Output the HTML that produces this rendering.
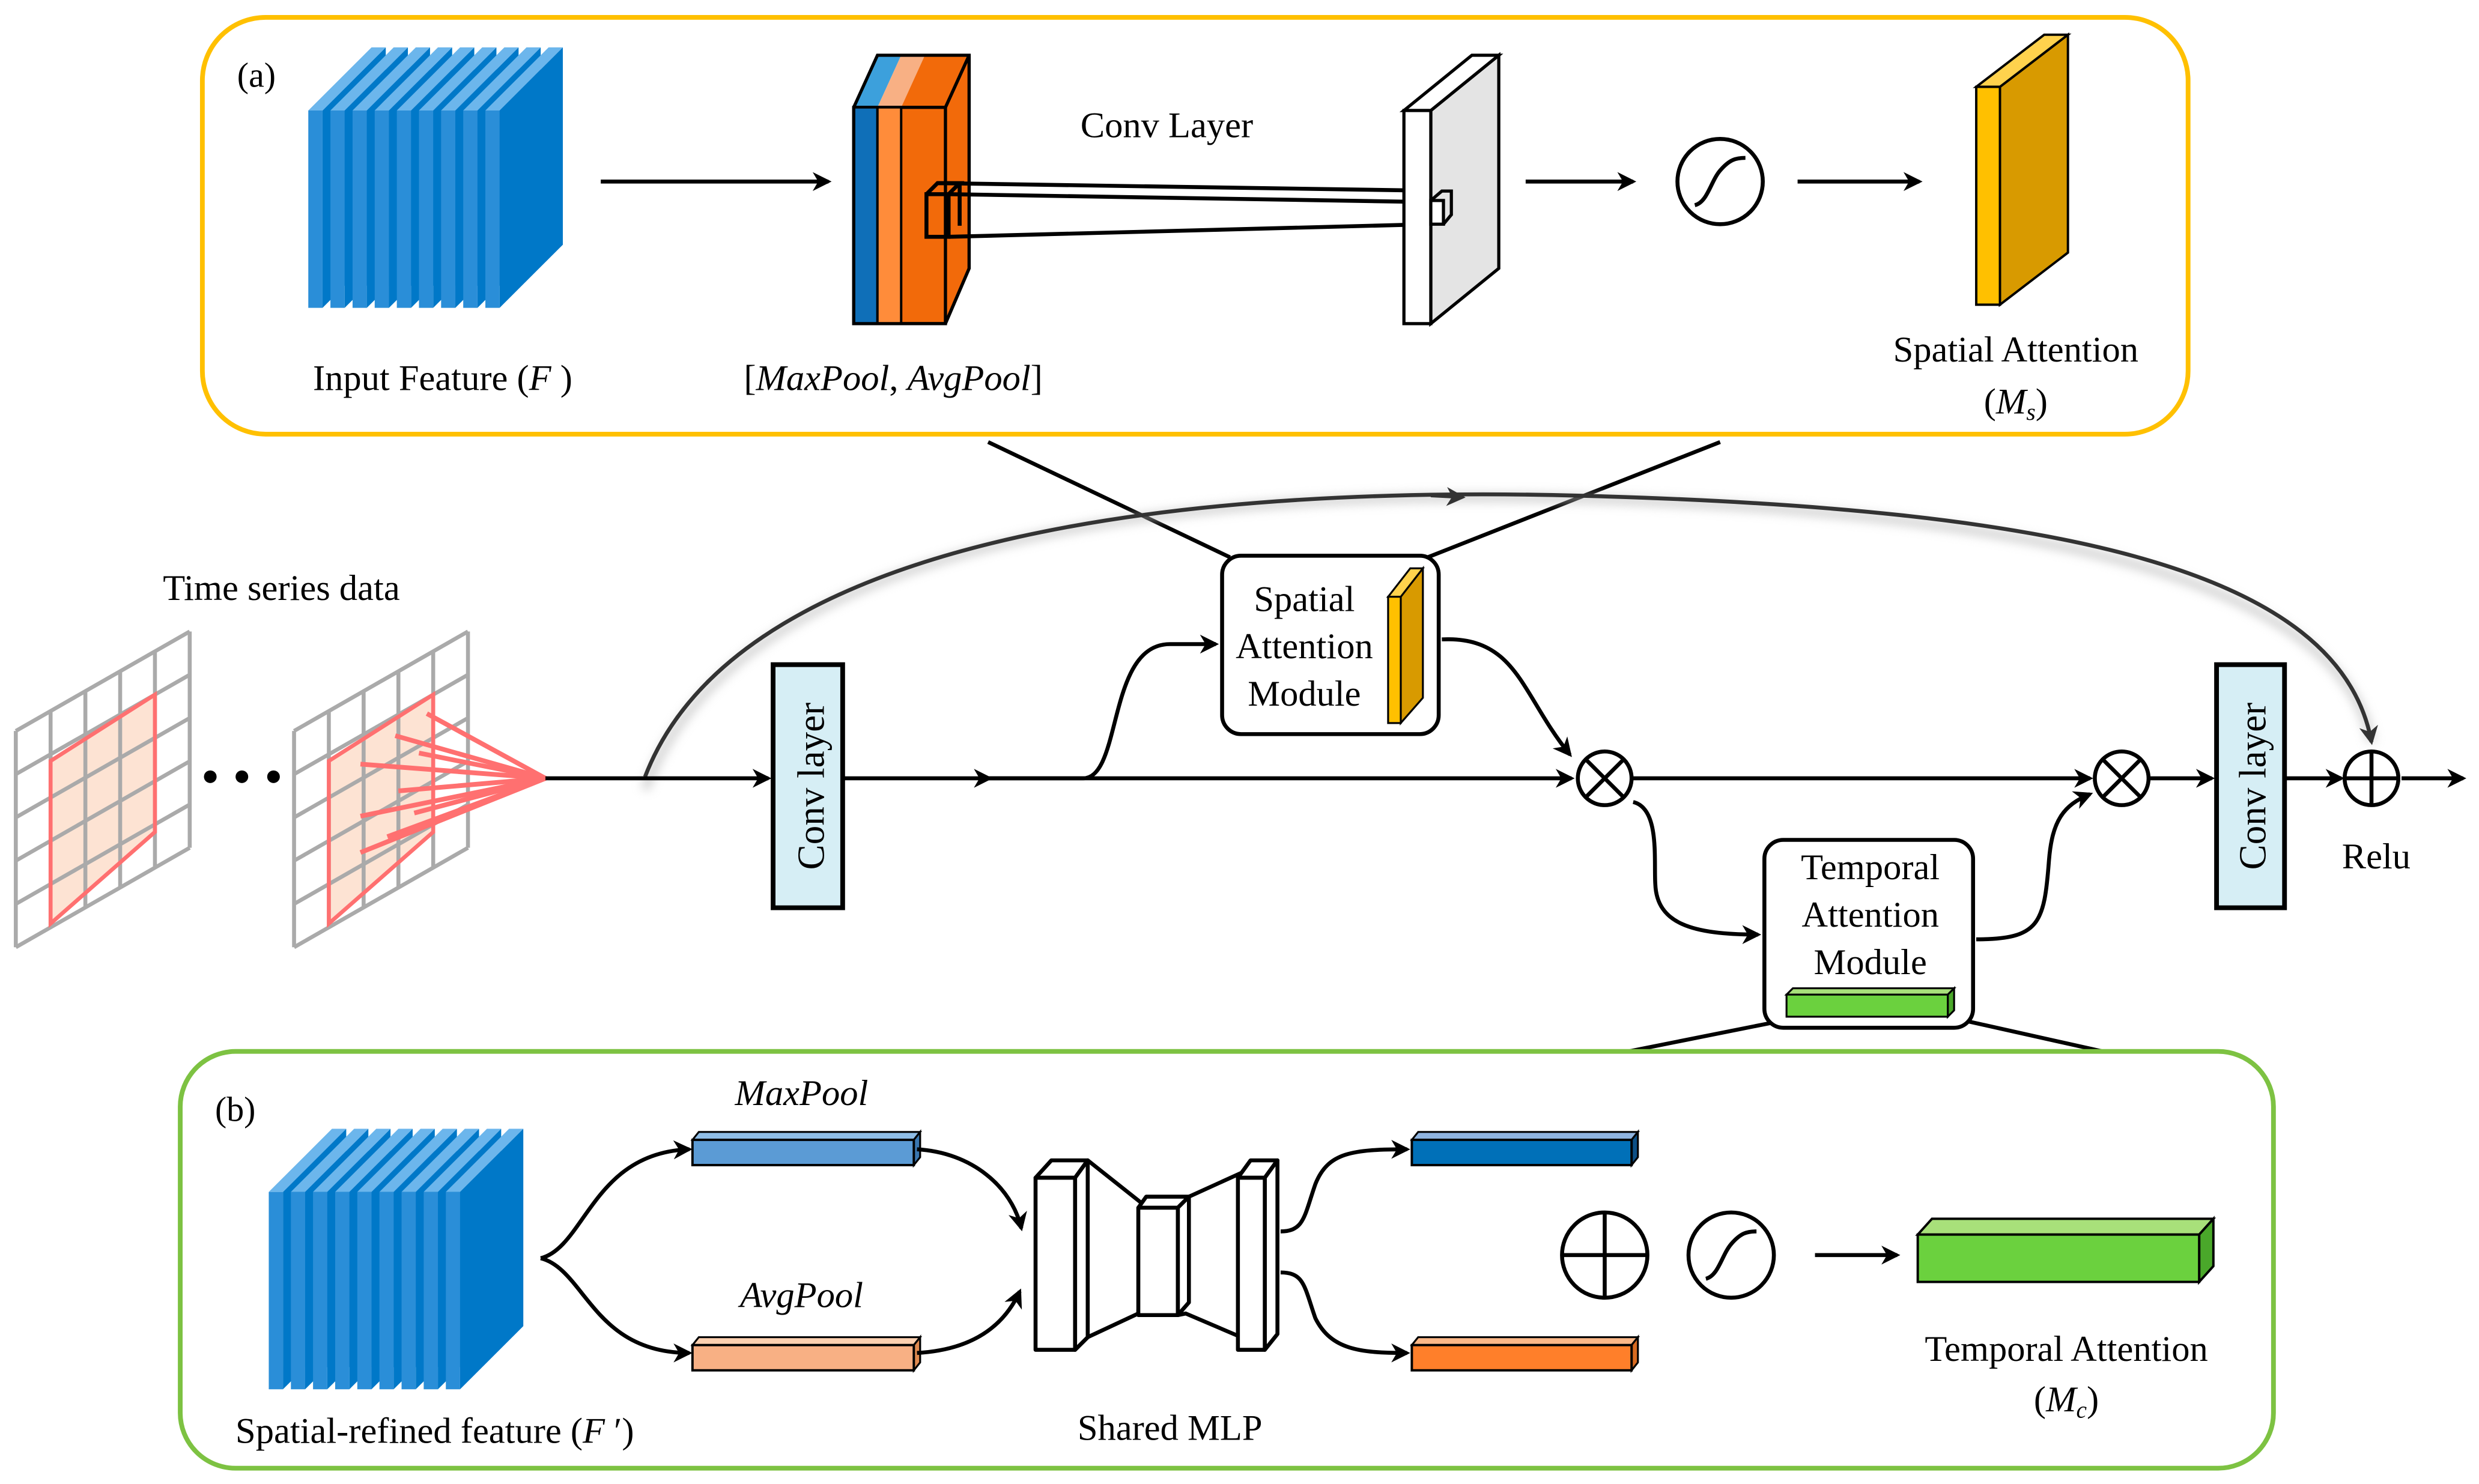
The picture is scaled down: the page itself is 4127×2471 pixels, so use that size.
<!DOCTYPE html>
<html><head><meta charset="utf-8"><style>
html,body{margin:0;padding:0;background:#fff;}
svg{display:block;font-family:"Liberation Serif","Times New Roman",serif;}
</style></head><body>
<svg width="4127" height="2471" viewBox="0 0 1568 940" preserveAspectRatio="none" xmlns="http://www.w3.org/2000/svg" font-family="Liberation Serif, serif">
<defs>
<marker id="ah" viewBox="0 0 12 12" refX="10" refY="6" markerWidth="12" markerHeight="12" markerUnits="userSpaceOnUse" orient="auto">
<path d="M0,0 L12,6 L0,12 L3.5,6 Z" fill="#000"/></marker>
<marker id="ahg" viewBox="0 0 12 12" refX="10" refY="6" markerWidth="12" markerHeight="12" markerUnits="userSpaceOnUse" orient="auto">
<path d="M0,0 L12,6 L0,12 L3.5,6 Z" fill="#333"/></marker>
<g id="slice">
<polygon points="9,-125 49,-165 49,-40 9,0" fill="#0078c8"/>
<polygon points="0,-125 40,-165 49,-165 9,-125" fill="#6cb6ec"/>
<rect x="0" y="-125" width="9" height="125" fill="#2a8ed8"/>
</g>
<filter id="blur"><feGaussianBlur stdDeviation="3"/></filter>
</defs>

<g font-family="Liberation Serif, serif" font-size="23">
<!-- Top box (a) -->
<rect x="128" y="11" width="1256" height="264" rx="40" fill="none" stroke="#FFC000" stroke-width="3"/>
<text x="150" y="55" font-size="22">(a)</text>
<g transform="translate(195,195)">
<use href="#slice" x="0"/><use href="#slice" x="14"/><use href="#slice" x="28"/><use href="#slice" x="42"/><use href="#slice" x="56"/><use href="#slice" x="70"/><use href="#slice" x="84"/><use href="#slice" x="98"/><use href="#slice" x="112"/>
</g>
<text x="280" y="247" text-anchor="middle">Input Feature (<tspan font-style="italic">F</tspan> )</text>
<line x1="380" y1="115" x2="524" y2="115" stroke="#000" stroke-width="2.5" marker-end="url(#ah)"/>
<!-- pooled block -->
<polygon points="598,68 613,35 613,170 598,205" fill="#f26a0a" stroke="#000" stroke-width="2"/>
<polygon points="540,68 555,35 570,35 555,68" fill="#3ca0dc"/>
<polygon points="555,68 570,35 585,35 570,68" fill="#f8b084"/>
<polygon points="570,68 585,35 613,35 598,68" fill="#f26a0a"/>
<rect x="540" y="68" width="58" height="137" fill="#f26a0a" stroke="#000" stroke-width="2"/>
<rect x="540" y="68" width="15" height="137" fill="#0f6fb8" stroke="#000" stroke-width="1.5"/>
<rect x="555" y="68" width="15" height="137" fill="#ff8c3a" stroke="#000" stroke-width="1.5"/>
<polygon points="540,68 555,35 613,35 613,170 598,205 540,205" fill="none" stroke="#000" stroke-width="2"/>
<line x1="598" y1="68" x2="613" y2="35" stroke="#000" stroke-width="2"/>
<!-- small cube & projection -->
<rect x="586" y="123" width="14" height="27" fill="none" stroke="#000" stroke-width="2.5"/>
<polyline points="586,123 593,116 607,116 600,123" fill="none" stroke="#000" stroke-width="2.5"/>
<line x1="607" y1="116" x2="607" y2="143" stroke="#000" stroke-width="2.5"/>
<line x1="593" y1="116" x2="918" y2="121" stroke="#000" stroke-width="2.5"/>
<line x1="600" y1="123" x2="905" y2="128" stroke="#000" stroke-width="2.5"/>
<line x1="600" y1="150" x2="905" y2="142" stroke="#000" stroke-width="2.5"/>
<text x="738" y="87" text-anchor="middle">Conv Layer</text>
<!-- gray plate -->
<polygon points="905,70 948,35 948,170 905,205" fill="#e4e4e4" stroke="#000" stroke-width="2"/>
<polygon points="888,70 931,35 948,35 905,70" fill="#fff" stroke="#000" stroke-width="2"/>
<rect x="888" y="70" width="17" height="135" fill="#fff" stroke="#000" stroke-width="2"/>
<rect x="905" y="127" width="8" height="15" fill="#fff" stroke="#000" stroke-width="2"/>
<polyline points="905,127 912,121 918,121 918,136 913,142" fill="none" stroke="#000" stroke-width="2"/>
<text x="565" y="247" text-anchor="middle">[<tspan font-style="italic">MaxPool</tspan>, <tspan font-style="italic">AvgPool</tspan>]</text>
<line x1="965" y1="115" x2="1033" y2="115" stroke="#000" stroke-width="2.5" marker-end="url(#ah)"/>
<circle cx="1088" cy="115" r="27" fill="none" stroke="#000" stroke-width="2.5"/>
<path d="M1072,130 C1080,128 1082,115 1088,108 C1094,101 1098,100 1104,100" fill="none" stroke="#000" stroke-width="2.5"/>
<line x1="1137" y1="115" x2="1214" y2="115" stroke="#000" stroke-width="2.5" marker-end="url(#ah)"/>
<!-- spatial attention map -->
<polygon points="1265,55 1308,22 1308,160 1265,193" fill="#d89a00" stroke="#000" stroke-width="1.5"/>
<polygon points="1250,55 1293,22 1308,22 1265,55" fill="#ffd24d" stroke="#000" stroke-width="1.5"/>
<rect x="1250" y="55" width="15" height="138" fill="#ffc000" stroke="#000" stroke-width="1.5"/>
<text x="1275" y="229" text-anchor="middle">Spatial Attention</text>
<text x="1275" y="262" text-anchor="middle">(<tspan font-style="italic">M</tspan><tspan font-style="italic" font-size="15" dy="4">s</tspan><tspan dy="-4">)</tspan></text>

<!-- connector lines from (a) -->
<line x1="625" y1="280" x2="778" y2="353" stroke="#000" stroke-width="2.5"/>
<line x1="1088" y1="280" x2="903" y2="353" stroke="#000" stroke-width="2.5"/>

<!-- big skip arc -->
<path d="M408,500 C470,330 780,310 1000,316 C1300,325 1480,370 1500,470" fill="none" stroke="#bbb" stroke-width="6" filter="url(#blur)" opacity="0.6"/>
<path d="M408,492 C470,330 780,308 1000,314 C1300,322 1480,360 1500,470" fill="none" stroke="#333" stroke-width="2.5" marker-end="url(#ahg)"/>
<path d="M905,314 L925,315" stroke="#333" stroke-width="2" marker-end="url(#ahg)"/>

<!-- time series -->
<text x="178" y="380" text-anchor="middle">Time series data</text>
<g id="grid1" fill="none">
<polygon points="32,482 98,440 98,527 32,585" fill="#fde3d3" stroke="none"/>
<g stroke="#aaa" stroke-width="2.5">
<line x1="10" y1="463" x2="10" y2="600"/><line x1="32" y1="450.4" x2="32" y2="587.4"/><line x1="54" y1="437.8" x2="54" y2="574.8"/><line x1="76" y1="425.2" x2="76" y2="562.2"/><line x1="98" y1="412.6" x2="98" y2="549.6"/><line x1="120" y1="400" x2="120" y2="537"/>
<line x1="10" y1="463" x2="120" y2="400"/><line x1="10" y1="490.4" x2="120" y2="427.4"/><line x1="10" y1="517.8" x2="120" y2="454.8"/><line x1="10" y1="545.2" x2="120" y2="482.2"/><line x1="10" y1="572.6" x2="120" y2="509.6"/><line x1="10" y1="600" x2="120" y2="537"/>
</g>
<polygon points="32,482 98,440 98,527 32,585" stroke="#ff7070" stroke-width="2.5"/>
</g>
<use href="#grid1" x="176"/>
<circle cx="133" cy="492" r="4" fill="#000"/><circle cx="153" cy="492" r="4" fill="#000"/><circle cx="173" cy="492" r="4" fill="#000"/>
<g stroke="#ff7070" stroke-width="3">
<line x1="345" y1="493" x2="270" y2="452"/><line x1="345" y1="493" x2="250" y2="466"/><line x1="345" y1="493" x2="265" y2="477"/>
<line x1="345" y1="493" x2="228" y2="484"/><line x1="345" y1="493" x2="252" y2="501"/><line x1="345" y1="493" x2="228" y2="517"/>
<line x1="345" y1="493" x2="262" y2="515"/><line x1="345" y1="493" x2="245" y2="530"/><line x1="345" y1="493" x2="228" y2="540"/>
</g>
<line x1="345" y1="493" x2="486" y2="493" stroke="#000" stroke-width="2.5" marker-end="url(#ah)"/>

<!-- conv layer 1 -->
<rect x="489" y="421" width="44" height="154" fill="#d6eef5" stroke="#000" stroke-width="3"/>
<text transform="translate(521,498) rotate(-90)" font-size="24" text-anchor="middle">Conv layer</text>
<line x1="533" y1="493" x2="626" y2="493" stroke="#000" stroke-width="2.5" marker-end="url(#ah)"/>
<line x1="620" y1="493" x2="994" y2="493" stroke="#000" stroke-width="2.5" marker-end="url(#ah)"/>
<path d="M625,493 L685,493 C710,493 700,408 740,408 L769,408" fill="none" stroke="#000" stroke-width="2.5" marker-end="url(#ah)"/>

<!-- SAM -->
<rect x="773" y="352" width="137" height="113" rx="12" fill="#fff" stroke="#000" stroke-width="2.5"/>
<text x="825" y="387" text-anchor="middle">Spatial</text>
<text x="825" y="417" text-anchor="middle">Attention</text>
<text x="825" y="447" text-anchor="middle">Module</text>
<polygon points="886,378 900,360 900,442 886,458" fill="#d89a00" stroke="#000" stroke-width="1.2"/>
<polygon points="878,378 892,360 900,360 886,378" fill="#ffd24d" stroke="#000" stroke-width="1.2"/>
<rect x="878" y="378" width="8" height="80" fill="#ffc000" stroke="#000" stroke-width="1.2"/>
<path d="M912,405 C960,403 962,440 993,478" fill="none" stroke="#000" stroke-width="2.5" marker-end="url(#ah)"/>

<!-- otimes 1 -->
<circle cx="1015" cy="493" r="17" fill="#fff" stroke="#000" stroke-width="2.5"/>
<line x1="1003" y1="481" x2="1027" y2="505" stroke="#000" stroke-width="2.5"/><line x1="1027" y1="481" x2="1003" y2="505" stroke="#000" stroke-width="2.5"/>
<line x1="1032" y1="493" x2="1322" y2="493" stroke="#000" stroke-width="2.5" marker-end="url(#ah)"/>
<path d="M1033,508 C1050,512 1046,545 1047,560 C1048,585 1070,592 1112,592" fill="none" stroke="#000" stroke-width="2.5" marker-end="url(#ah)"/>

<!-- TAM -->
<rect x="1116" y="532" width="132" height="119" rx="12" fill="#fff" stroke="#000" stroke-width="2.5"/>
<text x="1183" y="557" text-anchor="middle">Temporal</text>
<text x="1183" y="587" text-anchor="middle">Attention</text>
<text x="1183" y="617" text-anchor="middle">Module</text>
<polygon points="1130,630 1134,626 1236,626 1232,630" fill="#a8e07a" stroke="#000" stroke-width="1.2"/>
<polygon points="1232,630 1236,626 1236,640 1232,644" fill="#4aa82a" stroke="#000" stroke-width="1.2"/>
<rect x="1130" y="630" width="102" height="14" fill="#6bd13e" stroke="#000" stroke-width="1.2"/>
<path d="M1250,595 C1290,595 1293,585 1296,545 C1298,520 1305,510 1322,503" fill="none" stroke="#000" stroke-width="2.5" marker-end="url(#ah)"/>

<!-- otimes 2 -->
<circle cx="1342" cy="493" r="17" fill="#fff" stroke="#000" stroke-width="2.5"/>
<line x1="1330" y1="481" x2="1354" y2="505" stroke="#000" stroke-width="2.5"/><line x1="1354" y1="481" x2="1330" y2="505" stroke="#000" stroke-width="2.5"/>
<line x1="1360" y1="493" x2="1399" y2="493" stroke="#000" stroke-width="2.5" marker-end="url(#ah)"/>
<rect x="1402" y="421" width="43" height="154" fill="#d6eef5" stroke="#000" stroke-width="3"/>
<text transform="translate(1433,498) rotate(-90)" font-size="24" text-anchor="middle">Conv layer</text>
<line x1="1445" y1="493" x2="1481" y2="493" stroke="#000" stroke-width="2.5" marker-end="url(#ah)"/>
<circle cx="1500" cy="493" r="17" fill="#fff" stroke="#000" stroke-width="2.5"/>
<line x1="1483" y1="493" x2="1517" y2="493" stroke="#000" stroke-width="2.5"/><line x1="1500" y1="476" x2="1500" y2="510" stroke="#000" stroke-width="2.5"/>
<line x1="1519" y1="493" x2="1558" y2="493" stroke="#000" stroke-width="2.5" marker-end="url(#ah)"/>
<text x="1503" y="550" text-anchor="middle">Relu</text>

<!-- connectors to (b) -->
<line x1="1120" y1="648" x2="1030" y2="666" stroke="#000" stroke-width="2.5"/>
<line x1="1245" y1="647" x2="1330" y2="666" stroke="#000" stroke-width="2.5"/>

<!-- bottom box (b) -->
<rect x="114" y="666" width="1324" height="264" rx="35" fill="none" stroke="#7DC242" stroke-width="3"/>
<text x="136" y="710" font-size="22">(b)</text>
<g transform="translate(170,880)">
<use href="#slice" x="0"/><use href="#slice" x="14"/><use href="#slice" x="28"/><use href="#slice" x="42"/><use href="#slice" x="56"/><use href="#slice" x="70"/><use href="#slice" x="84"/><use href="#slice" x="98"/><use href="#slice" x="112"/>
</g>
<text x="275" y="914" text-anchor="middle">Spatial-refined feature (<tspan font-style="italic">F</tspan> ′)</text>
<path d="M342,797 C370,790 375,730 436,728" fill="none" stroke="#000" stroke-width="2.5" marker-end="url(#ah)"/>
<path d="M342,797 C370,804 375,857 436,857" fill="none" stroke="#000" stroke-width="2.5" marker-end="url(#ah)"/>
<!-- maxpool bar -->
<polygon points="438,722 442,717 582,717 578,722" fill="#8fbde6" stroke="#000" stroke-width="1.2"/>
<polygon points="578,722 582,717 582,733 578,738" fill="#3a77b0" stroke="#000" stroke-width="1.2"/>
<rect x="438" y="722" width="140" height="16" fill="#5b9bd5" stroke="#000" stroke-width="1.5"/>
<text x="507" y="700" text-anchor="middle" font-style="italic">MaxPool</text>
<polygon points="438,852 442,847 582,847 578,852" fill="#fcd0b0" stroke="#000" stroke-width="1.2"/>
<polygon points="578,852 582,847 582,863 578,868" fill="#e08a50" stroke="#000" stroke-width="1.2"/>
<rect x="438" y="852" width="140" height="16" fill="#f8b084" stroke="#000" stroke-width="1.5"/>
<text x="507" y="828" text-anchor="middle" font-style="italic">AvgPool</text>
<path d="M580,728 C615,730 640,752 646,778" fill="none" stroke="#000" stroke-width="2.5" marker-end="url(#ah)"/>
<path d="M580,857 C615,855 635,840 645,818" fill="none" stroke="#000" stroke-width="2.5" marker-end="url(#ah)"/>
<!-- shared MLP -->
<g fill="#fff" stroke="#000" stroke-width="2.5" stroke-linejoin="round">
<polygon points="680,746 688,735 722,762 720,832 688,847 680,855"/>
<polygon points="745,765 752,758 785,743 785,847 750,832 745,833"/>
<polygon points="655,746 665,735 688,735 680,746"/>
<polygon points="680,746 688,735 688,847 680,855"/>
<rect x="655" y="746" width="25" height="109"/>
<polygon points="720,765 725,758 752,758 745,765"/>
<polygon points="745,765 752,758 752,825 745,833"/>
<rect x="720" y="765" width="25" height="68"/>
<polygon points="783,746 791,735 808,735 800,746"/>
<polygon points="800,746 808,735 808,845 800,855"/>
<rect x="783" y="746" width="17" height="109"/>
</g>
<text x="740" y="912" text-anchor="middle">Shared MLP</text>
<path d="M810,780 C825,780 825,770 832,750 C840,730 855,728 890,728" fill="none" stroke="#000" stroke-width="2.5" marker-end="url(#ah)"/>
<path d="M810,806 C825,806 825,815 832,835 C842,855 860,857 890,857" fill="none" stroke="#000" stroke-width="2.5" marker-end="url(#ah)"/>
<polygon points="893,722 897,717 1036,717 1032,722" fill="#8fb4e0" stroke="#000" stroke-width="1.2"/>
<polygon points="1032,722 1036,717 1036,733 1032,738" fill="#0d4f85" stroke="#000" stroke-width="1.2"/>
<rect x="893" y="722" width="139" height="16" fill="#0070b8" stroke="#000" stroke-width="1.5"/>
<polygon points="893,852 897,847 1036,847 1032,852" fill="#fbb888" stroke="#000" stroke-width="1.2"/>
<polygon points="1032,852 1036,847 1036,863 1032,868" fill="#d86a20" stroke="#000" stroke-width="1.2"/>
<rect x="893" y="852" width="139" height="16" fill="#ff7f2a" stroke="#000" stroke-width="1.5"/>
<circle cx="1015" cy="795" r="27" fill="none" stroke="#000" stroke-width="2.5"/>
<line x1="988" y1="795" x2="1042" y2="795" stroke="#000" stroke-width="2.5"/><line x1="1015" y1="768" x2="1015" y2="822" stroke="#000" stroke-width="2.5"/>
<circle cx="1095" cy="795" r="27" fill="none" stroke="#000" stroke-width="2.5"/>
<path d="M1079,810 C1087,808 1089,795 1095,788 C1101,781 1105,780 1111,780" fill="none" stroke="#000" stroke-width="2.5"/>
<line x1="1148" y1="795" x2="1200" y2="795" stroke="#000" stroke-width="2.5" marker-end="url(#ah)"/>
<polygon points="1213,782 1222,772 1400,772 1391,782" fill="#a8e07a" stroke="#000" stroke-width="1.5"/>
<polygon points="1391,782 1400,772 1400,802 1391,812" fill="#4aa82a" stroke="#000" stroke-width="1.5"/>
<rect x="1213" y="782" width="178" height="30" fill="#6bd13e" stroke="#000" stroke-width="1.5"/>
<text x="1307" y="862" text-anchor="middle">Temporal Attention</text>
<text x="1307" y="894" text-anchor="middle">(<tspan font-style="italic">M</tspan><tspan font-style="italic" font-size="15" dy="4">c</tspan><tspan dy="-4">)</tspan></text>
</g>
</svg>
</body></html>
